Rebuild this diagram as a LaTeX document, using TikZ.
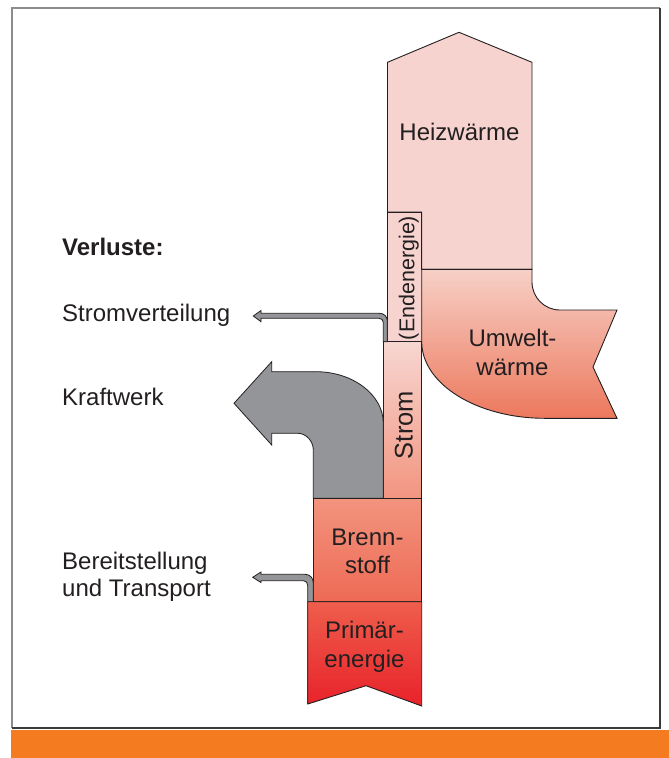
\documentclass[tikz,border=0pt]{standalone}
\usepackage{fontspec}
\setmainfont{Liberation Sans}
\definecolor{ink}{HTML}{231F20}
\definecolor{heiz}{HTML}{F6D3CF}
\definecolor{umwA}{HTML}{F7D0C6}
\definecolor{umwB}{HTML}{EC785D}
\definecolor{stromA}{HTML}{F7D6D1}
\definecolor{stromB}{HTML}{F29580}
\definecolor{brennA}{HTML}{F2947E}
\definecolor{brennB}{HTML}{EE6A55}
\definecolor{primA}{HTML}{EF5E4C}
\definecolor{primB}{HTML}{E8222A}
\definecolor{lossgrey}{HTML}{939598}
\definecolor{band}{HTML}{F47B20}
\definecolor{framegrey}{HTML}{8C8C8C}
\definecolor{framedark}{HTML}{3A3A3A}
\tikzset{
  block/.style={draw=ink, line width=0.9pt, line join=miter},
  loss/.style={draw=ink, line width=0.8pt, fill=lossgrey, line join=miter},
  lbl/.style={text=ink, inner sep=0pt, font=\fontsize{24}{28}\selectfont},
  boldlbl/.style={lbl, font=\fontsize{24}{28}\selectfont\bfseries},
}
\begin{document}
\begin{tikzpicture}[x=1pt,y=-1pt]
\useasboundingbox (0,0) rectangle (669,758);
\fill[white] (0,0) rectangle (669,758);
% frame
\draw[framegrey, line width=1.2pt] (12,728) -- (12,8) -- (660,8);
\draw[framedark, line width=1.2pt] (660,8) -- (660,728) -- (12,728);
\fill[band] (11,729.5) rectangle (669,758);

% Heizwaerme
\path[block, fill=heiz] (387.5,212) -- (387.5,62.3) -- (459,32.3) -- (532,62.3)
  -- (532,269.3) -- (421.7,269.3) -- (421.7,212) -- cycle;
\node[lbl, anchor=base] (heiz) at (459.5,140.7) {Heizwärme};

% Endenergie box
\path[block, fill=heiz] (387.5,212) rectangle (421.7,341.7);
\node[lbl, font=\fontsize{21.5}{26}\selectfont, rotate=90, anchor=base] (endeng) at (414.3,278) {(Endenergie)};

% Umweltwaerme
\path[block, shading angle=35, top color=umwA, bottom color=umwB]
  (421.7,269.3) -- (532,269.3) -- (532,282)
  .. controls (532,297.5) and (544.5,310) .. (560,310)
  -- (617,310) -- (593,367) -- (617,418.3) -- (545,418.3)
  .. controls (477,418.3) and (421.7,384) .. (421.7,341.7) -- cycle;
\node[lbl, anchor=base] (umw1) at (512.5,346.7) {Umwelt-};
\node[lbl, anchor=base] (umw2) at (512.5,375) {wärme};

% Strom
\path[block, top color=stromA, bottom color=stromB] (383.3,341.7) rectangle (421.7,498.3);
\node[lbl, font=\fontsize{25.5}{30}\selectfont, rotate=90, anchor=base] (strom) at (412.5,425) {Strom};

% Stromverteilung loss
\path[loss] (383.3,341.7) -- (383.3,322.5)
  .. controls (383.3,320) and (381.5,318.3) .. (379,318.3)
  -- (261,318.3) -- (261,321.7) -- (253.3,316) -- (261,310.5) -- (261,313.3)
  -- (379.5,313.3) .. controls (384,313.3) and (387.3,316.5) .. (387.3,321)
  -- (387.3,341.7) -- cycle;

% Kraftwerk loss
\path[loss] (313.3,498.3) -- (313.3,450)
  .. controls (313.3,441) and (306,433.3) .. (298,433.3)
  -- (271.7,433.3) -- (271.7,445) -- (234,403.3) -- (271.7,361.7) -- (271.7,371.7)
  -- (316,371.7) .. controls (353,371.7) and (383.3,395) .. (383.3,423)
  -- (383.3,498.3) -- cycle;

% Brennstoff
\path[block, top color=brennA, bottom color=brennB] (313.3,498.3) rectangle (421.7,601.7);
\node[lbl, anchor=base] (brenn1) at (367.5,545) {Brenn-};
\node[lbl, anchor=base] (brenn2) at (367.5,573.3) {stoff};

% Bereitstellung loss
\path[loss] (307.7,601.7) -- (307.7,585.5)
  .. controls (307.7,582.7) and (306,580.7) .. (303.5,580.7)
  -- (261,580.7) -- (261,582.5) -- (252.7,577.3) -- (261,572) -- (261,574.3)
  -- (305,574.3) .. controls (310,574.3) and (313.3,578) .. (313.3,583)
  -- (313.3,601.7) -- cycle;

% Primaerenergie
\path[block, top color=primA, bottom color=primB]
  (307.7,601.7) -- (421.7,601.7) -- (421.7,706) -- (366,685.7) -- (307.7,704) -- cycle;
\node[lbl, anchor=base] (prim1) at (364.5,638.3) {Primär-};
\node[lbl, anchor=base] (prim2) at (364.5,667.5) {energie};

% Loss labels
\node[boldlbl, anchor=base west] (verl) at (62,255) {Verluste:};
\node[lbl, anchor=base west] (sv) at (62,321.7) {Stromverteilung};
\node[lbl, anchor=base west] (kw) at (62,405) {Kraftwerk};
\node[lbl, anchor=base west] (bt1) at (62,569.3) {Bereitstellung};
\node[lbl, anchor=base west] (bt2) at (62,596.7) {und Transport};
\end{tikzpicture}
\end{document}
